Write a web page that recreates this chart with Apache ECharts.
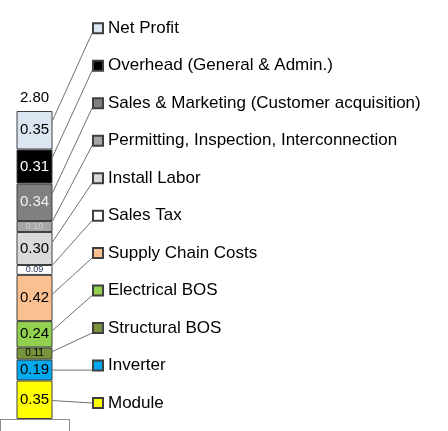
<!DOCTYPE html>
<html>
<head>
<meta charset="utf-8">
<script src="https://cdn.jsdelivr.net/npm/echarts@6/dist/echarts.min.js"></script>
<style>
  html, body { margin: 0; padding: 0; background: #fff; }
  #chart { width: 448px; height: 431px; }
</style>
</head>
<body>
<div id="chart"></div>
<script>
// one stacked column, bottom to top
var categories = ['Installed cost'];
var seriesNames = [
    'Module',
    'Inverter',
    'Structural BOS',
    'Electrical BOS',
    'Supply Chain Costs',
    'Sales Tax',
    'Install Labor',
    'Permitting, Inspection, Interconnection',
    'Sales & Marketing (Customer acquisition)',
    'Overhead (General & Admin.)',
    'Net Profit'
];
var costValues = [0.35, 0.19, 0.11, 0.24, 0.42, 0.09, 0.30, 0.10, 0.34, 0.31, 0.35];

var colors = ['#FFFF00', '#00A9EE', '#77933C', '#92D050', '#FAC090', '#FFFFFF',
              '#D9D9D9', '#A6A6A6', '#808080', '#000000', '#DCE6F2'];

// label tweaks for thin / dark segments
var labelColor = {
    'Sales Tax': '#1F2D5A',
    'Permitting, Inspection, Interconnection': '#D0D0D0',
    'Sales & Marketing (Customer acquisition)': '#F2F2F2',
    'Overhead (General & Admin.)': '#FFFFFF'
};
var labelSize = {
    'Sales Tax': 9,
    'Permitting, Inspection, Interconnection': 9,
    'Structural BOS': 10
};

var font = 'Liberation Sans, Arial, sans-serif';
var barWidth = 36;
var keyCenter0 = 28.3;   // y of first legend key centre
var rowStep = 37.47;
var keyX = 92;
var keySize = 10;
var textH = 17;

var n = seriesNames.length;
var total = costValues.reduce(function(a, b) { return a + b; }, 0);

var chart = echarts.init(document.getElementById('chart'));

var series = seriesNames.map(function(name, i) {
    return {
        name: name,
        type: 'bar',
        stack: 'cost',
        barWidth: barWidth,
        data: [costValues[i]],
        itemStyle: { color: colors[i], borderColor: '#404040', borderWidth: 1 },
        label: {
            show: true,
            position: 'inside',
            color: labelColor[name] || '#000',
            fontSize: labelSize[name] || 15,
            fontFamily: font,
            formatter: function(p) { return p.value.toFixed(2); }
        }
    };
});

// zero-height cap that only carries the total label
series.push({
    name: 'Total',
    type: 'bar',
    stack: 'cost',
    barWidth: barWidth,
    data: [0],
    itemStyle: { color: 'rgba(0,0,0,0)', borderWidth: 0 },
    label: {
        show: true,
        position: 'top',
        distance: 6,
        color: '#000',
        fontSize: 15,
        fontFamily: font,
        formatter: function() { return total.toFixed(2); }
    }
});

var option = {
    animation: false,
    grid: { left: -5, right: 379, top: 111, bottom: 12 },
    xAxis: {
        type: 'category',
        data: categories,
        boundaryGap: true,
        axisLine: { show: true, lineStyle: { color: '#8c8c8c', width: 1 } },
        axisTick: { show: true, length: 12, lineStyle: { color: '#8c8c8c' } },
        axisLabel: { show: false }
    },
    yAxis: {
        type: 'value',
        min: 0,
        max: 2.8,
        show: false
    },
    legend: {
        orient: 'vertical',
        left: keyX,
        top: keyCenter0 - textH / 2,
        padding: 0,
        itemGap: rowStep - textH,
        itemWidth: keySize,
        itemHeight: keySize,
        icon: 'rect',
        selectedMode: false,
        data: seriesNames.slice().reverse(),
        textStyle: { fontSize: textH, fontFamily: font, color: '#000' }
    },
    series: series
};

chart.setOption(option);

// leader lines from each segment to its legend key
var drawLeaders = function() {
    var elements = [];
    var cum = 0;
    costValues.forEach(function(v, i) {
        var pBot = chart.convertToPixel({ xAxisIndex: 0, yAxisIndex: 0 }, [0, cum]);
        var pTop = chart.convertToPixel({ xAxisIndex: 0, yAxisIndex: 0 }, [0, cum + v]);
        cum += v;
        var x0 = pTop[0] + barWidth / 2;
        var mid = (pTop[1] + pBot[1]) / 2;
        var keyC = keyCenter0 + (n - 1 - i) * rowStep;
        var y0 = mid + (keyC + keySize / 2 - mid) * 0.1;
        y0 = Math.max(pTop[1], Math.min(pBot[1], y0));
        var y1 = Math.max(keyC, Math.min(keyC + keySize / 2, y0));
        elements.push({
            type: 'line',
            silent: true,
            shape: { x1: x0, y1: y0, x2: keyX, y2: y1 },
            style: { stroke: '#6f6f6f', lineWidth: 1 }
        });
    });
    chart.setOption({ graphic: { elements: elements } });
};

drawLeaders();
</script>
</body>
</html>
